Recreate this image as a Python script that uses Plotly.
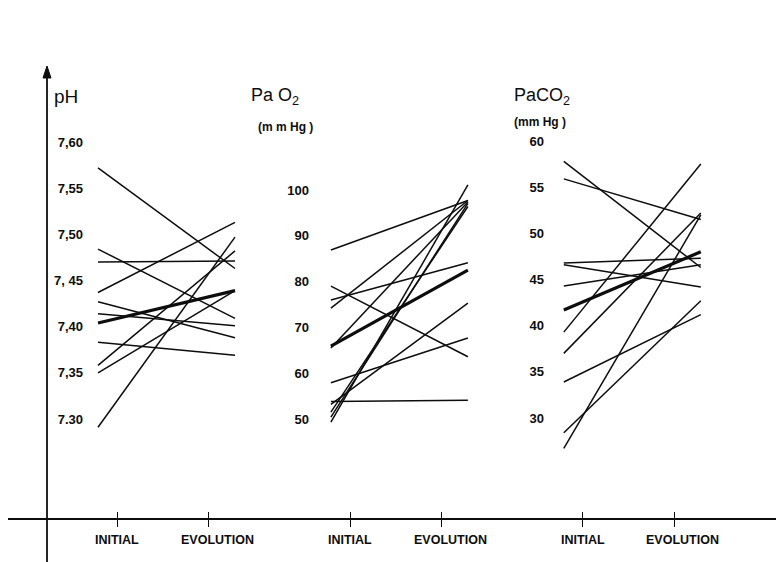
import plotly.graph_objects as go

# ---- data ----
phases = ["INITIAL", "EVOLUTION"]

ph_initial   = [7.572, 7.484, 7.470, 7.437, 7.427, 7.414, 7.383, 7.358, 7.350, 7.291]
ph_evolution = [7.463, 7.409, 7.471, 7.513, 7.388, 7.401, 7.369, 7.482, 7.439, 7.497]
ph_mean = [7.404, 7.439]

pao2_initial   = [86.9, 79.0, 76.0, 74.2, 65.5, 57.9, 53.8, 53.2, 51.5, 50.4, 49.3]
pao2_evolution = [97.7, 63.6, 84.1, 97.7, 97.4, 67.7, 54.1, 75.3, 96.4, 97.1, 101.1]
pao2_mean = [65.9, 82.5]

paco2_initial   = [57.8, 55.9, 46.8, 46.6, 44.3, 39.3, 37.0, 33.9, 28.4, 26.7]
paco2_evolution = [46.3, 51.5, 47.3, 44.2, 46.6, 57.5, 52.2, 41.2, 42.7, 52.0]
paco2_mean = [41.7, 48.0]

ph_ticks = [7.30, 7.35, 7.40, 7.45, 7.50, 7.55, 7.60]
ph_ticktext = ["7.30", "7,35", "7,40", "7, 45", "7,50", "7,55", "7,60"]
pao2_ticks = [50, 60, 70, 80, 90, 100]
paco2_ticks = [30, 35, 40, 45, 50, 55, 60]

# panel layout on the shared x scale (INITIAL = 0, EVOLUTION = 1 within a panel)
panel_offset = [0.0, 1.7, 3.4]
tick_pos = [0.14, 0.81]
label_pos = [0.14, 0.87]

OFF = 8  # page body margin
W, H = 784 - OFF, 562 - OFF
FONT = "Liberation Sans, Arial, sans-serif"
INK = "#0d0d0d"


def px(x):
    return (x - OFF) / W


def py(y):
    return (H - (y - OFF)) / H


def yrange(v1, p1, v2, p2):
    # axis range so that value v1 sits at page pixel p1 and v2 at p2
    p1 -= OFF
    p2 -= OFF
    k = (v1 - v2) / (p2 - p1)
    return [v1 - k * (H - p1), v1 + k * p1]


fig = go.Figure()

panels = [
    (ph_initial, ph_evolution, ph_mean, "y"),
    (pao2_initial, pao2_evolution, pao2_mean, "y2"),
    (paco2_initial, paco2_evolution, paco2_mean, "y3"),
]
for p, (ini, evo, mean, yax) in enumerate(panels):
    off = panel_offset[p]
    for a, b in zip(ini, evo):
        fig.add_trace(go.Scatter(x=[off, off + 1], y=[a, b], mode="lines",
                                 line=dict(color=INK, width=1.5),
                                 yaxis=yax, xaxis="x", showlegend=False,
                                 hoverinfo="skip"))
    fig.add_trace(go.Scatter(x=[off, off + 1], y=mean, mode="lines",
                             line=dict(color=INK, width=3.2),
                             yaxis=yax, xaxis="x", showlegend=False,
                             hoverinfo="skip"))

tickvals = [off + t for off in panel_offset for t in tick_pos]

# x: value 0 at page px 98, 1 unit = 137 px
x0, xs = 98 - OFF, 137.0
x_range = [-x0 / xs, (W - x0) / xs]
axis_pos = py(519)

tfont = dict(family=FONT, size=13, color=INK, weight="bold")
common_y = dict(showgrid=False, zeroline=False, showline=False, ticks="",
                tickfont=tfont, domain=[0, 1], anchor="free")

fig.update_layout(
    width=W, height=H,
    margin=dict(l=0, r=0, t=0, b=0),
    paper_bgcolor="white", plot_bgcolor="white",
    showlegend=False,
    xaxis=dict(range=x_range, anchor="free", position=axis_pos,
               showgrid=False, zeroline=False, showline=False,
               tickvals=tickvals, ticks="outside", ticklen=7,
               tickwidth=1.3, tickcolor=INK, showticklabels=False),
    xaxis2=dict(range=x_range, overlaying="x", anchor="free", position=axis_pos,
                showgrid=False, zeroline=False, showline=False,
                tickvals=tickvals, ticks="inside", ticklen=7,
                tickwidth=1.3, tickcolor=INK, showticklabels=False),
    yaxis=dict(range=yrange(7.60, 142, 7.30, 419), position=px(83),
               tickvals=ph_ticks, ticktext=ph_ticktext, **common_y),
    yaxis2=dict(range=yrange(100, 190, 50, 419), overlaying="y", position=px(309),
                tickvals=pao2_ticks, **common_y),
    yaxis3=dict(range=yrange(60, 141, 30, 418), overlaying="y", position=px(544),
                tickvals=paco2_ticks, **common_y),
)

# dummy trace so xaxis2 is drawn
fig.add_trace(go.Scatter(x=[None], y=[None], xaxis="x2", yaxis="y",
                         showlegend=False, hoverinfo="skip"))

# horizontal main axis (extends past both edges)
fig.add_shape(type="line", xref="paper", yref="paper",
              x0=-0.05, x1=1.05, y0=axis_pos, y1=axis_pos,
              line=dict(color=INK, width=1.8))
# vertical main axis with arrow head
fig.add_shape(type="line", xref="paper", yref="paper",
              x0=px(47), x1=px(47), y0=-0.05, y1=py(72),
              line=dict(color=INK, width=1.8))
fig.add_shape(type="path", xref="paper", yref="paper",
              path=f"M {px(43)} {py(78)} L {px(47)} {py(66)} L {px(51)} {py(78)} Z",
              fillcolor=INK, line=dict(color=INK, width=1))

# x labels
for off in panel_offset:
    for name, lp in zip(phases, label_pos):
        fig.add_annotation(x=off + lp, y=py(549), xref="x", yref="paper",
                           text=name, showarrow=False,
                           font=dict(family=FONT, size=12.5, color=INK,
                                     weight="bold"))

# panel titles
titles = [("pH", 52, 97, 19), ("Pa O<sub>2</sub>", 249, 97, 18),
          ("PaCO<sub>2</sub>", 512, 97, 18),
          ("(m m Hg )", 256, 127, 12), ("(mm Hg )", 512, 122, 12)]
for txt, tx, ty, fs in titles:
    weight = "bold" if fs < 15 else "normal"
    fig.add_annotation(x=px(tx), y=py(ty), xref="paper", yref="paper",
                       xanchor="left", yanchor="middle", text=txt,
                       showarrow=False,
                       font=dict(family=FONT, size=fs, color=INK, weight=weight))

fig.write_html("out.html")
